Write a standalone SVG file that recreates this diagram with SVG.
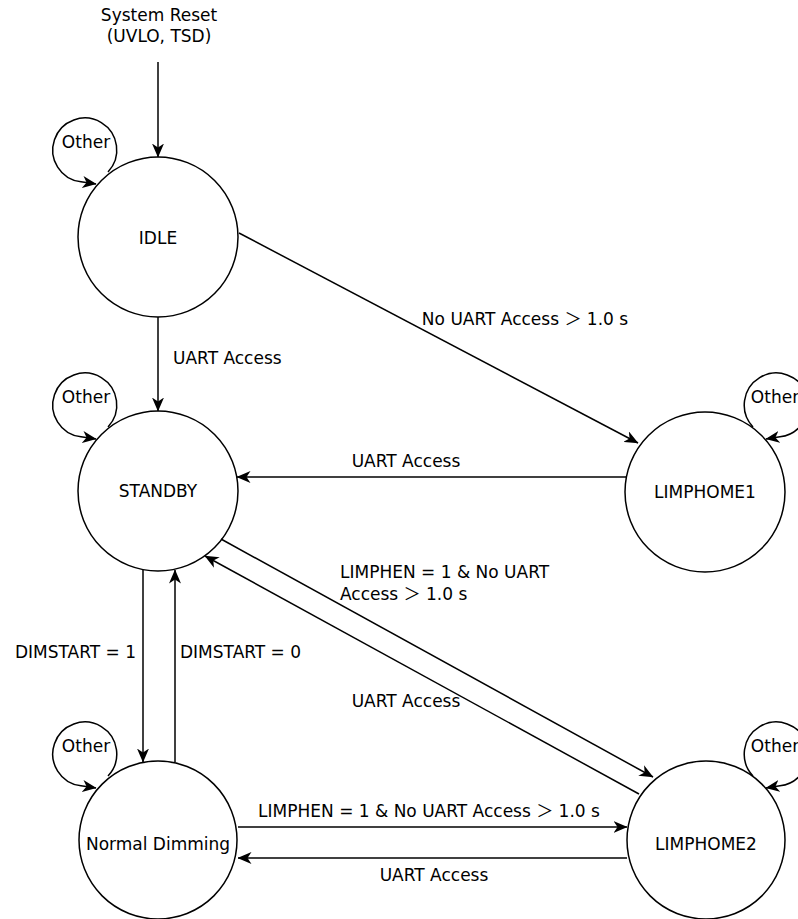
<svg xmlns="http://www.w3.org/2000/svg" width="798" height="919" viewBox="0 0 798 919">
<style>
text{font-family:"DejaVu Sans","Noto Sans CJK JP",sans-serif;font-size:17px;fill:#000}
.n{fill:#fff;stroke:#000;stroke-width:1.5}
.e{fill:none;stroke:#000;stroke-width:1.5;marker-end:url(#arr)}
.m{text-anchor:middle}
.r{text-anchor:end}
</style>
<defs>
<marker id="arr" markerUnits="userSpaceOnUse" markerWidth="14" markerHeight="12" viewBox="0 0 14 12" refX="13.5" refY="6" orient="auto">
<path d="M0,0 L14,6 L0,12 L4,6 Z" fill="#000"/>
</marker>
</defs>
<rect width="798" height="919" fill="#fff"/>
<g id="nodes">
<g id="idle"><circle class="n" cx="158" cy="237" r="80"/><text class="m" x="158" y="244">IDLE</text></g>
<g id="standby"><circle class="n" cx="158" cy="491" r="80"/><text class="m" x="158" y="497">STANDBY</text></g>
<g id="limphome1"><circle class="n" cx="705" cy="492" r="80"/><text class="m" x="705" y="498">LIMPHOME1</text></g>
<g id="normal"><circle class="n" cx="158" cy="840" r="79"/><text class="m" x="158" y="850">Normal Dimming</text></g>
<g id="limphome2"><circle class="n" cx="706" cy="840" r="79"/><text class="m" x="706" y="850">LIMPHOME2</text></g>
</g>
<g id="connectors">
<text class="m" x="159" y="21">System Reset</text>
<text class="m" x="159" y="42">(UVLO, TSD)</text>
<path class="e" d="M158,62 L158,157"/>
<path class="e" d="M158,317 L158,411"/>
<text x="173" y="364">UART Access</text>
<path class="e" d="M239,233 L638,443"/>
<text class="m" x="525" y="325">No UART Access ＞ 1.0 s</text>
<path class="e" d="M626,477 L237,477"/>
<text class="m" x="406" y="467">UART Access</text>
<path class="e" d="M221,539 L653,777"/>
<text x="340" y="578">LIMPHEN = 1 &amp; No UART</text>
<text x="340" y="600">Access ＞ 1.0 s</text>
<path class="e" d="M639,794 L205,556"/>
<text class="m" x="406" y="707">UART Access</text>
<path class="e" d="M143,570 L143,762"/>
<text class="r" x="136" y="658">DIMSTART = 1</text>
<path class="e" d="M175,762 L175,570"/>
<text x="180" y="658">DIMSTART = 0</text>
<path class="e" d="M238,827 L627,827"/>
<text class="m" x="429" y="817">LIMPHEN = 1 &amp; No UART Access ＞ 1.0 s</text>
<path class="e" d="M627,858 L238,858"/>
<text class="m" x="434" y="881">UART Access</text>
<g id="loops">
<path class="e" d="M108,172 A32,32 0 1 0 81,181.8 L96,184"/>
<text class="m" x="86" y="148">Other</text>
<path class="e" d="M108,427 A32,32 0 1 0 81,436.8 L96,439"/>
<text class="m" x="86" y="403">Other</text>
<path class="e" d="M108,776 A32,32 0 1 0 81,785.8 L96,788"/>
<text class="m" x="86" y="752">Other</text>
<path class="e" d="M753,427 A32,32 0 1 1 780,436.8 L766,439"/>
<text class="m" x="775" y="403">Other</text>
<path class="e" d="M753,776 A32,32 0 1 1 780,785.8 L766,788"/>
<text class="m" x="775" y="752">Other</text>
</g>
</g>
</svg>
